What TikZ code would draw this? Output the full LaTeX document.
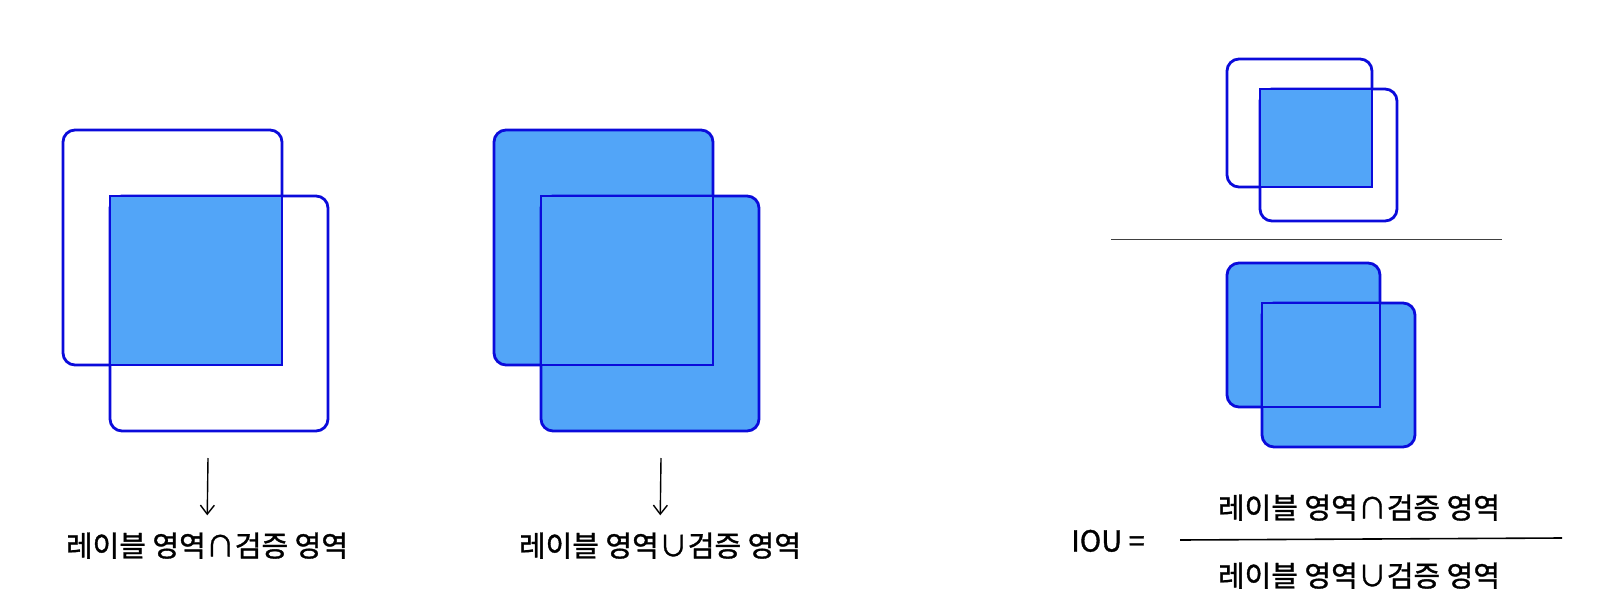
\documentclass[tikz,border=0pt]{standalone}
\usepackage{fontspec}
\setmainfont{Noto Sans CJK KR}[FakeBold=1.2]
\usetikzlibrary{arrows.meta}
\definecolor{areablue}{HTML}{52A5F8}
\definecolor{edgeblue}{HTML}{0B0BDB}
\tikzset{
  roundbox/.style={draw=edgeblue, line width=2.8pt, rounded corners=12pt},
  sharpbox/.style={draw=edgeblue, fill=areablue, line width=2.8pt},
  areatext/.style={inner sep=0, text height=23pt, text depth=2pt, font=\fontsize{29pt}{35pt}\selectfont},
  downarrow/.style={line width=1.4pt, -{Straight Barb[length=9pt,width=14pt]}, shorten >=18pt}
}

\begin{document}
\begin{tikzpicture}[x=1pt,y=-1pt]
\useasboundingbox (0,0) rectangle (1597,615);
% left: intersection, middle: union
\foreach \dx/\col in {0/white, 431/areablue} {
 \draw[roundbox, fill=\col, xshift=\dx] (63,130) rectangle (282,365);
 \draw[roundbox, fill=\col, xshift=\dx] (110,196) rectangle (328,431);
 \draw[sharpbox, xshift=\dx] (110,196) rectangle (282,365);
}
\coordinate (arrI) at (208,458);
\coordinate (arrU) at (661,458);
\node[areatext] (txtI) at (207,546) {레이블 영역∩검증 영역};
\node[areatext] (txtU) at (660,546) {레이블 영역∪검증 영역};
\draw[downarrow] (arrI) -- (txtI.north);
\draw[downarrow] (arrU) -- (txtU.north);

% right: IOU as a fraction of boxes
\draw[roundbox, fill=white] (1227,59) rectangle (1372,187);
\draw[roundbox, fill=white] (1260,89) rectangle (1397,221);
\draw[sharpbox] (1260,89) rectangle (1372,187);
\draw[black!75, line width=1pt] (1111,239) -- (1502,239);
\draw[roundbox, fill=areablue] (1227,263) rectangle (1380,407);
\draw[roundbox, fill=areablue] (1262,303) rectangle (1415,447);
\draw[sharpbox] (1262,303) rectangle (1380,407);

\node[areatext] (iou) at (1108,541) {IOU =};
\node[areatext] (numer) at (1359,508) {레이블 영역∩검증 영역};
\node[areatext] (denom) at (1359,576) {레이블 영역∪검증 영역};
\draw[black, line width=1.6pt] (1180,540) -- (1562,538);
\end{tikzpicture}
\end{document}
